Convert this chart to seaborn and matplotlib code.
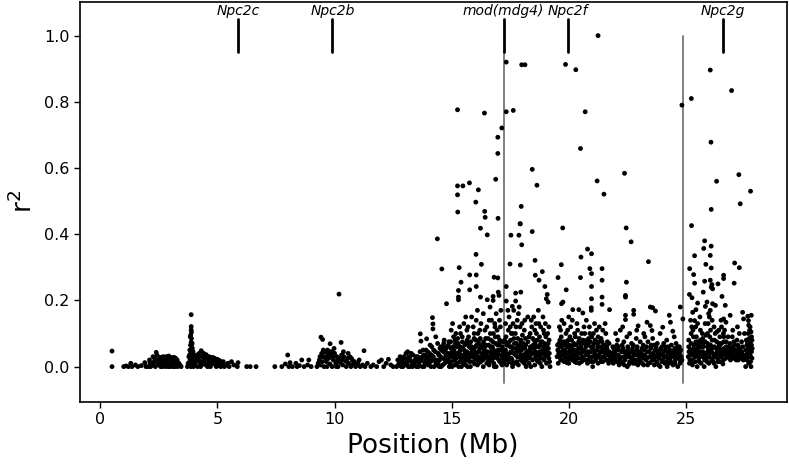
import matplotlib
matplotlib.use("Agg")
import matplotlib.pyplot as plt
import seaborn as sns
import pandas as pd

# ---------------- data ----------------
pts_left = [(0.50,0.047),(0.50,0.0),
 (1.0,0.0),(1.1,0.002),(1.2,0.0),(1.3,0.01),(1.35,0.0),(1.5,0.005),(1.6,0.0),(1.75,0.003),(1.9,0.012),(1.95,0.0),
 (2.05,0.0),(2.1,0.02),(2.2,0.008),(2.25,0.03),(2.3,0.015),(2.35,0.0),(2.39,0.043),(2.42,0.035),(2.45,0.02),(2.5,0.005),
 (2.55,0.028),(2.6,0.012),(2.65,0.0),(2.7,0.02),(2.75,0.008),(2.8,0.03),(2.85,0.015),(2.9,0.0),(2.95,0.025),(3.0,0.01),
 (3.05,0.018),(3.1,0.0),(3.15,0.028),(3.2,0.008),(3.25,0.015),(3.3,0.0),(3.35,0.01),(3.4,0.005),(3.45,0.0),
 (2.15,0.0),(2.28,0.005),(2.48,0.01),(2.58,0.0),(2.68,0.03),(2.78,0.0),(2.88,0.01),(2.98,0.0),(3.08,0.008),(3.18,0.0),
 (3.28,0.02),(2.62,0.022),(2.92,0.032),(3.22,0.025),
 (2.12,0.012),(2.32,0.025),(2.52,0.018),(2.72,0.012),(2.82,0.022),(3.02,0.028),(3.12,0.015),(3.32,0.012),
 (3.72,0.0),(3.75,0.01),(3.78,0.03),(3.8,0.005),(3.82,0.05),(3.83,0.02),(3.85,0.065),(3.86,0.04),(3.87,0.0),(3.88,0.157),
 (3.88,0.121),(3.88,0.111),(3.89,0.104),(3.89,0.085),(3.88,0.074),(3.9,0.06),(3.91,0.045),(3.92,0.03),(3.9,0.015),
 (3.93,0.055),(3.95,0.02),(3.97,0.035),(3.98,0.0),(3.84,0.09),(3.86,0.095),(3.81,0.035),(3.79,0.012),(3.94,0.008),
 (3.87,0.05),(3.92,0.07),(3.84,0.03),(3.89,0.025),(3.91,0.005),(3.85,0.012),(3.96,0.045),
 (4.05,0.01),(4.1,0.025),(4.15,0.0),(4.2,0.02),(4.25,0.012),(4.31,0.048),(4.35,0.03),(4.41,0.04),(4.45,0.018),(4.5,0.005),
 (4.52,0.036),(4.55,0.025),(4.6,0.01),(4.65,0.03),(4.7,0.0),(4.75,0.02),(4.8,0.028),(4.85,0.008),(4.9,0.015),(4.95,0.0),
 (5.0,0.022),(5.05,0.012),(5.1,0.018),(5.15,0.0),(5.2,0.008),(5.25,0.015),(5.3,0.0),(5.35,0.005),(5.45,0.01),(5.5,0.0),
 (5.6,0.015),(5.7,0.005),(5.85,0.0),(5.88,0.012),(4.12,0.035),(4.28,0.0),(4.38,0.008),(4.58,0.0),(4.68,0.015),(4.88,0.025),
 (5.08,0.002),(4.22,0.04),(4.48,0.03),
 (4.08,0.018),(4.18,0.028),(4.33,0.015),(4.43,0.025),(4.62,0.022),(4.78,0.012),(4.98,0.008),
 (6.25,0.0),(6.4,0.0),(6.65,0.0),(7.45,0.0),(7.75,0.0),(7.9,0.008),(8.0,0.035),(8.05,0.0),(8.2,0.0),(8.35,0.01),(8.4,0.0),
 (8.6,0.02),(8.7,0.0),(8.85,0.005),(8.9,0.02),(9.0,0.0),(8.1,0.012),(8.5,0.003),
 (9.25,0.0),(9.3,0.01),(9.35,0.02),(9.42,0.089),(9.49,0.082),(9.45,0.04),(9.5,0.03),(9.55,0.0),(9.6,0.045),(9.65,0.015),
 (9.7,0.05),(9.75,0.025),(9.81,0.069),(9.8,0.008),(9.85,0.035),(9.9,0.0),(9.95,0.02),(10.0,0.04),(10.05,0.01),(10.1,0.03),
 (10.19,0.219),(10.15,0.0),(10.2,0.025),(10.25,0.012),(10.28,0.073),(10.3,0.035),(10.35,0.005),(10.4,0.03),(10.45,0.018),
 (10.5,0.0),(10.55,0.025),(10.6,0.01),(10.65,0.03),(10.7,0.0),(10.75,0.02),(10.8,0.008),(10.85,0.015),(10.9,0.0),
 (11.0,0.01),(11.05,0.02),(11.1,0.0),(11.2,0.005),(11.26,0.048),(11.3,0.0),(11.4,0.01),(9.4,0.005),(9.58,0.03),
 (9.68,0.0),(9.88,0.045),(10.08,0.0),(10.38,0.045),(10.58,0.04),(9.52,0.05),(9.62,0.025),
 (9.38,0.03),(9.48,0.015),(9.72,0.035),(9.92,0.03),(10.12,0.018),(10.32,0.02),(10.52,0.015),(10.72,0.025),(9.78,0.045),(9.98,0.055),
 (11.55,0.0),(11.65,0.005),(11.8,0.0),(11.9,0.015),(12.0,0.02),(12.1,0.0),(12.2,0.01),(12.3,0.022),(12.4,0.005),(12.5,0.0)]

pts_band_a = [(12.65,0.0),(12.7,0.02),(12.75,0.008),(12.8,0.03),(12.85,0.0),(12.9,0.015),(12.95,0.025),(13.0,0.005),
 (13.05,0.04),(13.1,0.012),(13.15,0.0),(13.2,0.028),(13.25,0.018),(13.3,0.005),(13.35,0.035),(13.4,0.01),(13.45,0.022),
 (13.5,0.0),(12.78,0.012),(12.92,0.0),(13.08,0.022),(13.22,0.0),(13.38,0.015),(13.12,0.045),
 (13.55,0.03),(13.6,0.008),(13.66,0.099),(13.65,0.045),(13.7,0.018),(13.69,0.077),(13.75,0.0),(13.8,0.035),(13.85,0.012),
 (13.9,0.05),(13.93,0.084),(13.95,0.025),(14.0,0.005),(14.05,0.04),(14.1,0.015),(14.15,0.06),(14.18,0.148),(14.2,0.129),
 (14.2,0.114),(14.22,0.03),(14.25,0.0),(14.3,0.045),(14.35,0.02),(14.4,0.07),(14.42,0.01),(14.45,0.035),(14.5,0.055),
 (13.58,0.0),(13.72,0.028),(13.82,0.0),(13.88,0.022),(14.02,0.03),(14.12,0.0),(14.28,0.018),(14.38,0.005),(14.48,0.02),
 (14.32,0.09),(14.08,0.065),(13.98,0.045),
 (14.55,0.0),(14.6,0.025),(14.65,0.045),(14.7,0.01),(14.75,0.035),(14.8,0.06),(14.85,0.02),(14.9,0.0),(14.95,0.04),
 (15.0,0.015),(15.05,0.03),(15.1,0.05),(15.15,0.005),(15.2,0.025),(15.25,0.04),(15.3,0.0),(15.35,0.015),(15.4,0.035),
 (15.45,0.055),(15.5,0.01),(14.62,0.005),(14.72,0.05),(14.82,0.015),(14.92,0.028),(15.02,0.0),(15.12,0.02),(15.22,0.01),
 (15.32,0.03),(15.42,0.0),(15.48,0.025),(14.68,0.08),(14.88,0.075),(15.08,0.09),(15.28,0.07),(15.38,0.1),(14.98,0.11),
 (15.55,0.03),(15.6,0.005),(15.65,0.045),(15.7,0.02),(15.75,0.06),(15.8,0.0),(15.85,0.035),(15.9,0.015),(15.95,0.05),
 (16.0,0.025),(16.05,0.04),(16.1,0.005),(16.15,0.03),(16.2,0.055),(16.25,0.015),(16.3,0.04),(16.35,0.0),(16.4,0.025),
 (16.45,0.045),(16.5,0.01),(15.58,0.018),(15.68,0.0),(15.78,0.028),(15.88,0.045),(15.98,0.008),(16.08,0.02),(16.18,0.012),
 (16.28,0.028),(16.38,0.05),(16.48,0.035),(15.62,0.07),(15.72,0.09),(15.82,0.075),(15.92,0.12),(16.02,0.08),(16.12,0.1),
 (16.22,0.085),(16.32,0.065),(16.42,0.11),(15.52,0.13),(15.85,0.15),(16.05,0.14),(16.25,0.13),(16.35,0.16),
 (16.55,0.03),(16.6,0.005),(16.65,0.045),(16.7,0.02),(16.75,0.055),(16.8,0.01),(16.85,0.035),(16.9,0.0),(16.95,0.025),
 (17.0,0.05),(17.05,0.015),(17.1,0.035),(17.15,0.005),(17.2,0.04),(16.58,0.065),(16.68,0.08),(16.78,0.1),(16.88,0.07),
 (16.98,0.09),(17.08,0.12),(17.18,0.075),(16.62,0.015),(16.72,0.038),(16.82,0.0),(16.92,0.048),(17.02,0.02),(17.12,0.01),
 (16.7,0.14),(16.9,0.16),(17.1,0.17)]

pts_band_b = [(17.25,0.02),(17.3,0.05),(17.35,0.005),(17.4,0.035),(17.45,0.015),(17.5,0.06),(17.55,0.025),(17.6,0.0),
 (17.65,0.04),(17.7,0.01),(17.75,0.055),(17.8,0.03),(17.85,0.005),(17.9,0.045),(17.95,0.02),(18.0,0.035),(18.05,0.06),
 (18.1,0.01),(18.15,0.04),(18.2,0.025),(17.28,0.03),(17.38,0.065),(17.48,0.04),(17.58,0.02),(17.68,0.07),(17.78,0.015),
 (17.88,0.03),(17.98,0.05),(18.08,0.028),(18.18,0.0),(17.32,0.09),(17.42,0.11),(17.52,0.08),(17.62,0.13),(17.72,0.1),
 (17.82,0.085),(17.92,0.12),(18.02,0.095),(18.12,0.14),(17.45,0.15),(17.65,0.17),(17.85,0.16),
 (18.25,0.045),(18.3,0.01),(18.35,0.03),(18.4,0.055),(18.45,0.02),(18.5,0.04),(18.55,0.005),(18.6,0.035),(18.65,0.06),
 (18.7,0.015),(18.75,0.045),(18.8,0.025),(18.85,0.0),(18.9,0.04),(18.95,0.02),(19.0,0.055),(19.05,0.01),(19.1,0.035),
 (19.15,0.025),(19.2,0.0),(18.28,0.025),(18.38,0.0),(18.48,0.065),(18.58,0.028),(18.68,0.038),(18.78,0.01),(18.88,0.05),
 (18.98,0.03),(19.08,0.045),(19.18,0.015),(18.3,0.09),(18.42,0.12),(18.52,0.08),(18.62,0.1),(18.72,0.13),(18.82,0.075),
 (18.92,0.11),(19.02,0.09),(19.12,0.07),(18.5,0.15),(18.7,0.17),
 (19.5,0.03),(19.55,0.01),(19.6,0.045),(19.65,0.02),(19.7,0.06),(19.75,0.035),(19.8,0.015),(19.85,0.05),(19.9,0.025),
 (19.95,0.04),(20.0,0.01),(20.05,0.055),(20.1,0.03),(20.15,0.02),(20.2,0.045),(20.25,0.015),(20.3,0.035),(20.35,0.05),
 (20.4,0.025),(20.45,0.01),(19.58,0.07),(19.68,0.09),(19.78,0.075),(19.88,0.1),(19.98,0.08),(20.08,0.12),(20.18,0.065),
 (20.28,0.09),(20.38,0.11),(20.48,0.07),(19.62,0.03),(19.72,0.02),(19.82,0.04),(19.92,0.012),(20.02,0.03),(20.12,0.045),
 (20.22,0.025),(20.32,0.012),(20.42,0.04),(19.7,0.14),(20.0,0.15),
 (20.5,0.04),(20.55,0.015),(20.6,0.03),(20.65,0.05),(20.7,0.02),(20.75,0.035),(20.8,0.01),(20.85,0.045),(20.9,0.025),
 (20.95,0.06),(21.0,0.03),(21.05,0.015),(21.1,0.04),(21.15,0.02),(21.2,0.05),(21.25,0.01),(21.3,0.035),(21.35,0.025),
 (21.4,0.045),(21.45,0.015),(21.5,0.03),(21.55,0.05),(21.6,0.02),(21.65,0.04),(21.7,0.01),(21.75,0.03),(20.58,0.07),
 (20.68,0.1),(20.78,0.08),(20.88,0.12),(20.98,0.09),(21.08,0.07),(21.18,0.11),(21.28,0.075),(21.38,0.085),(21.48,0.065),
 (21.58,0.1),(20.62,0.025),(20.82,0.035),(21.02,0.0),(21.22,0.03),(21.42,0.028),(21.62,0.035)]

pts_band_c = [(21.8,0.02),(21.85,0.04),(21.9,0.01),(21.95,0.03),(22.0,0.05),(22.05,0.015),(22.1,0.035),(22.15,0.005),
 (22.2,0.025),(22.25,0.045),(22.3,0.01),(22.35,0.03),(22.4,0.02),(22.45,0.04),(22.5,0.0),(22.55,0.03),(22.6,0.015),
 (22.65,0.045),(22.7,0.025),(22.75,0.01),(22.8,0.035),(22.85,0.02),(22.9,0.05),(22.95,0.005),(23.0,0.03),(21.88,0.06),
 (22.08,0.08),(22.28,0.065),(22.48,0.09),(22.68,0.07),(22.88,0.085),(21.98,0.02),(22.18,0.03),(22.38,0.045),(22.58,0.008),
 (22.78,0.04),(22.98,0.018),(22.2,0.11),(22.6,0.1),
 (23.05,0.015),(23.1,0.04),(23.15,0.025),(23.2,0.005),(23.25,0.035),(23.3,0.02),(23.35,0.045),(23.4,0.01),(23.45,0.03),
 (23.5,0.055),(23.55,0.02),(23.6,0.04),(23.65,0.005),(23.7,0.03),(23.75,0.015),(23.8,0.045),(23.85,0.025),(23.9,0.0),
 (23.95,0.035),(24.0,0.02),(24.05,0.045),(24.1,0.01),(24.15,0.03),(24.2,0.0),(24.25,0.025),(24.3,0.04),(24.35,0.015),
 (24.4,0.03),(24.45,0.005),(24.5,0.035),(24.55,0.02),(24.6,0.04),(24.65,0.0),(24.7,0.025),(24.75,0.01),(24.8,0.03),
 (23.18,0.065),(23.38,0.075),(23.58,0.085),(23.78,0.07),(23.98,0.06),(24.18,0.08),(24.38,0.065),(24.58,0.07),(24.78,0.05),
 (23.28,0.03),(23.48,0.012),(23.68,0.05),(23.88,0.038),(24.08,0.028),(24.28,0.01),(24.48,0.045),(24.68,0.035),
 (25.1,0.03),(25.15,0.01),(25.2,0.05),(25.25,0.02),(25.3,0.04),(25.35,0.065),(25.4,0.015),(25.45,0.035),(25.5,0.055),
 (25.55,0.025),(25.6,0.045),(25.65,0.01),(25.7,0.03),(25.75,0.06),(25.8,0.02),(25.85,0.04),(25.9,0.015),(25.95,0.05),
 (26.0,0.03),(26.05,0.065),(26.1,0.02),(26.15,0.04),(26.2,0.01),(26.25,0.035),(26.3,0.055),(26.35,0.025),(26.4,0.045),
 (26.45,0.015),(26.5,0.03),(26.55,0.05),(26.6,0.02),(26.65,0.04),(26.7,0.025),(26.75,0.035),(25.12,0.08),(25.22,0.1),
 (25.32,0.09),(25.42,0.12),(25.52,0.075),(25.62,0.11),(25.72,0.085),(25.82,0.13),(25.92,0.1),(26.02,0.09),(26.12,0.14),
 (26.22,0.08),(26.32,0.105),(26.42,0.07),(26.52,0.12),(26.62,0.09),(26.72,0.075),(25.18,0.04),(25.28,0.005),(25.38,0.03),
 (25.48,0.0),(25.58,0.035),(25.68,0.045),(25.78,0.0),(25.88,0.025),(25.98,0.01),(26.08,0.045),(26.18,0.028),(26.28,0.0),
 (26.38,0.038),(26.48,0.048),(26.58,0.008),(26.68,0.05),
 (26.8,0.03),(26.85,0.045),(26.9,0.02),(26.95,0.04),(27.0,0.025),(27.05,0.05),(27.1,0.03),(27.15,0.02),(27.2,0.04),
 (27.25,0.03),(27.3,0.055),(27.35,0.025),(27.4,0.045),(27.45,0.02),(26.88,0.07),(26.98,0.09),(27.08,0.065),(27.18,0.08),
 (27.28,0.1),(27.38,0.075),(26.92,0.032),(27.12,0.038),(27.32,0.035),
 (27.55,0.0),(27.6,0.02),(27.62,0.04),(27.65,0.06),(27.68,0.01),(27.7,0.03),(27.72,0.05),(27.75,0.07),(27.78,0.0),
 (27.8,0.09),(27.82,0.025),(27.58,0.08),(27.66,0.1),(27.74,0.12),(27.8,0.045),(27.6,0.065),(27.7,0.085),(27.76,0.015),
 (27.64,0.035),(27.72,0.11),(27.8,0.065),(27.56,0.05),(27.68,0.125),(27.78,0.105)]

pts_band_extra = [(12.73,0.005),(12.88,0.02),(13.03,0.01),(13.18,0.03),(13.33,0.0),(13.48,0.03),(13.63,0.02),
 (13.78,0.05),(13.93,0.01),(14.03,0.02),(14.13,0.035),(14.23,0.05),(14.33,0.01),(14.43,0.04),(14.53,0.03),(14.63,0.06),
 (14.73,0.02),(14.83,0.04),(14.93,0.01),(15.03,0.045),(15.13,0.035),(15.23,0.06),(15.33,0.045),(15.43,0.02),(15.53,0.05),
 (15.63,0.03),(15.73,0.04),(15.83,0.055),(15.93,0.03),(16.03,0.06),(16.13,0.045),(16.23,0.025),(16.33,0.02),(16.43,0.06),
 (16.53,0.045),(16.63,0.03),(16.73,0.06),(16.83,0.045),(16.93,0.03),(17.03,0.065),(17.13,0.05),(17.23,0.01),(17.33,0.04),
 (17.43,0.025),(17.53,0.045),(17.63,0.055),(17.73,0.035),(17.83,0.05),(17.93,0.065),(18.03,0.015),(18.13,0.055),
 (18.23,0.035),(18.33,0.05),(18.43,0.04),(18.53,0.055),(18.63,0.02),(18.73,0.06),(18.83,0.04),(18.93,0.06),(19.03,0.035),
 (19.13,0.055),(19.53,0.05),(19.63,0.06),(19.73,0.045),(19.83,0.03),(19.93,0.06),(20.03,0.045),(20.13,0.06),(20.23,0.05),
 (20.33,0.025),(20.43,0.055),(20.53,0.025),(20.63,0.045),(20.73,0.06),(20.83,0.02),(20.93,0.045),(21.03,0.05),
 (21.13,0.03),(21.23,0.06),(21.33,0.045),(21.43,0.055),(21.53,0.04),(21.63,0.055),(21.73,0.045),(21.83,0.03),(21.93,0.045),
 (22.03,0.03),(22.13,0.05),(22.23,0.015),(22.33,0.045),(22.43,0.03),(22.53,0.05),(22.63,0.03),(22.73,0.045),(22.83,0.01),
 (22.93,0.035),(23.03,0.045),(23.13,0.01),(23.23,0.05),(23.33,0.025),(23.43,0.045),(23.53,0.035),(23.63,0.02),(23.73,0.05),
 (23.83,0.005),(23.93,0.05),(24.03,0.035),(24.13,0.05),(24.23,0.04),(24.33,0.025),(24.43,0.045),(24.53,0.01),(24.63,0.05),
 (24.73,0.04),(24.83,0.02),(25.13,0.045),(25.23,0.035),(25.33,0.015),(25.43,0.05),(25.53,0.04),(25.63,0.06),(25.73,0.045),
 (25.83,0.03),(25.93,0.06),(26.03,0.045),(26.13,0.055),(26.23,0.035),(26.33,0.045),(26.43,0.06),(26.53,0.04),(26.63,0.055),
 (26.73,0.05),(26.83,0.04),(26.93,0.055),(27.03,0.035),(27.13,0.05),(27.23,0.02),(27.33,0.045),(27.43,0.035),(27.53,0.03),
 (27.63,0.05),(27.73,0.04),(27.83,0.055),
 (12.97,0.03),(13.27,0.04),(13.57,0.015),(13.87,0.035),(14.17,0.02),(14.47,0.0),(14.57,0.05),(14.77,0.03),(14.97,0.055),
 (15.17,0.04),(15.37,0.05),(15.57,0.04),(15.77,0.015),(15.97,0.035),(16.17,0.045),(16.37,0.03),(16.57,0.02),(16.77,0.025),
 (16.97,0.04),(17.17,0.025),(17.37,0.02),(17.57,0.01),(17.77,0.045),(17.97,0.035),(18.17,0.02),(18.37,0.045),(18.57,0.045),
 (18.77,0.03),(18.97,0.045),(19.17,0.04),(19.57,0.04),(19.77,0.05),(19.97,0.02),(20.17,0.035),(20.37,0.04),(20.57,0.05),
 (20.77,0.045),(20.97,0.015),(21.17,0.035),(21.37,0.015),(21.57,0.035),(21.77,0.02),(21.97,0.04),(22.17,0.02),(22.37,0.005),
 (22.57,0.04),(22.77,0.02),(22.97,0.04),(23.17,0.03),(23.37,0.005),(23.57,0.03),(23.77,0.035),(23.97,0.015),(24.17,0.015),
 (24.37,0.035),(24.57,0.025),(24.77,0.015),(25.17,0.02),(25.37,0.045),(25.57,0.015),(25.77,0.035),(25.97,0.04),(26.17,0.015),
 (26.37,0.015),(26.57,0.035),(26.77,0.045),(26.97,0.03),(27.17,0.045),(27.37,0.04),(27.57,0.035),(27.67,0.045),(27.77,0.03),
 (15.15,0.08),(15.45,0.09),(15.65,0.11),(16.15,0.07),(16.45,0.085),(16.65,0.1),(16.85,0.12),(17.05,0.08),(17.35,0.07),
 (17.55,0.1),(17.75,0.12),(17.95,0.075),(18.15,0.085),(18.35,0.1),(18.55,0.11),(18.75,0.09),(18.95,0.1),(19.15,0.12),
 (19.65,0.11),(19.85,0.075),(20.05,0.09),(20.25,0.1),(20.45,0.085),(20.65,0.12),(20.85,0.085),(21.05,0.1),(21.25,0.09),
 (21.45,0.11),(21.65,0.075),(22.05,0.065),(22.35,0.075),(22.75,0.065),(23.05,0.075),(23.25,0.09),(23.65,0.065),
 (24.05,0.07),(24.25,0.06),(24.65,0.06),(25.25,0.12),(25.45,0.09),(25.65,0.075),(25.85,0.095),(26.05,0.11),(26.25,0.1),
 (26.45,0.09),(26.65,0.11),(27.05,0.075),(27.25,0.06)]

pts_band_mid = [(14.54,0.06),(14.66,0.07),(14.76,0.055),(14.86,0.065),(14.96,0.075),(15.06,0.06),(15.16,0.07),
 (15.26,0.085),(15.36,0.06),(15.46,0.075),(15.56,0.065),(15.66,0.08),(15.76,0.07),(15.86,0.06),(15.96,0.085),(16.06,0.065),
 (16.16,0.08),(16.26,0.06),(16.36,0.075),(16.46,0.065),(16.56,0.085),(16.66,0.06),(16.76,0.075),(16.86,0.09),(16.96,0.065),
 (17.06,0.075),(17.16,0.06),(17.26,0.08),(17.36,0.065),(17.46,0.075),(17.56,0.06),(17.66,0.085),(17.76,0.07),(17.86,0.06),
 (17.96,0.08),(18.06,0.07),(18.16,0.065),(18.26,0.075),(18.36,0.06),(18.46,0.085),(18.56,0.07),(18.66,0.08),(18.76,0.065),
 (18.86,0.075),(18.96,0.07),(19.06,0.065),(19.16,0.08),(19.52,0.065),(19.62,0.08),(19.72,0.07),(19.82,0.065),(19.92,0.075),
 (20.02,0.065),(20.12,0.08),(20.22,0.07),(20.32,0.065),(20.42,0.075),(20.52,0.06),(20.62,0.08),(20.72,0.07),(20.82,0.065),
 (20.92,0.075),(21.02,0.06),(21.12,0.08),(21.22,0.07),(21.32,0.06),(21.42,0.075),(21.52,0.065),(21.62,0.06),(21.72,0.07),
 (21.92,0.055),(22.12,0.06),(22.32,0.055),(22.52,0.06),(22.72,0.055),(22.92,0.06),(23.12,0.055),(23.32,0.06),(23.52,0.065),
 (23.72,0.06),(23.92,0.055),(24.12,0.06),(24.32,0.05),(24.52,0.055),(24.72,0.06),(25.12,0.06),(25.22,0.07),(25.32,0.055),
 (25.42,0.075),(25.52,0.065),(25.62,0.08),(25.72,0.065),(25.82,0.075),(25.92,0.07),(26.02,0.065),(26.12,0.08),(26.22,0.06),
 (26.32,0.075),(26.42,0.065),(26.52,0.07),(26.62,0.075),(26.72,0.06),(26.82,0.06),(26.92,0.05),(27.02,0.06),(27.22,0.065),
 (27.42,0.06),(27.62,0.075),(27.72,0.065),(27.82,0.08),
 (15.04,0.13),(15.18,0.1),(15.34,0.12),(15.6,0.15),(15.7,0.12),(15.96,0.1),(16.1,0.17),(16.2,0.11),(16.5,0.12),
 (16.6,0.14),(16.64,0.18),(16.84,0.13),(16.94,0.11),(17.04,0.14),(17.3,0.13),(17.4,0.17),(17.5,0.12),(17.6,0.1),
 (17.8,0.14),(17.88,0.18),(18.0,0.13),(18.1,0.11),(18.25,0.15),(18.4,0.14),(18.6,0.13),(18.8,0.12),(18.9,0.15),
 (19.0,0.13),(19.1,0.1),(19.6,0.12),(19.8,0.13),(19.95,0.11),(20.15,0.14),(20.35,0.13),(20.55,0.1),(20.75,0.14),
 (20.9,0.1),(21.1,0.13),(21.3,0.12),(21.55,0.13),(22.0,0.1),(22.3,0.12),(22.9,0.11),(23.2,0.1),(23.9,0.1),(24.5,0.09),
 (25.2,0.14),(25.3,0.11),(25.5,0.13),(25.6,0.15),(25.7,0.1),(25.95,0.13),(26.0,0.15),(26.2,0.12),(26.4,0.11),
 (26.5,0.14),(26.6,0.1),(26.8,0.09),(27.0,0.11),(27.2,0.12),(27.5,0.1)]

pts_upper = [(21.25,1.00),(17.33,0.92),(17.99,0.912),(18.13,0.912),(19.86,0.913),(20.30,0.897),(26.04,0.896),
 (26.95,0.834),(25.23,0.81),(24.83,0.79),(15.25,0.776),(16.40,0.766),(17.33,0.77),(17.63,0.774),(20.70,0.77),
 (17.14,0.721),(16.97,0.693),(20.50,0.659),(26.07,0.678),(16.97,0.644),(18.44,0.596),(22.38,0.584),(27.26,0.58),
 (16.88,0.566),(15.25,0.546),(15.48,0.546),(15.76,0.555),(16.14,0.534),(18.64,0.548),(21.21,0.561),(26.31,0.56),
 (15.25,0.519),(21.50,0.521),(27.76,0.53),(16.03,0.497),(27.32,0.492),(26.08,0.475),(15.26,0.467),(16.41,0.469),
 (16.43,0.451),(17.97,0.484),(16.98,0.448),(17.92,0.432),(16.23,0.418),(18.44,0.408),(19.74,0.419),(22.45,0.419),
 (25.24,0.426),(16.52,0.398),(17.53,0.397),(17.87,0.397),(14.39,0.386),
 (14.58,0.295),(14.78,0.19),(16.04,0.339),(16.27,0.309),(15.32,0.299),(15.77,0.277),(16.05,0.277),(15.40,0.255),
 (16.81,0.27),(16.97,0.268),(15.77,0.232),(16.05,0.242),(15.29,0.23),(15.29,0.21),(15.29,0.202),(16.23,0.21),
 (16.52,0.202),(16.99,0.225),(17.02,0.215),(16.77,0.212),(16.77,0.2),(17.33,0.242),(17.33,0.198),(17.93,0.431),
 (17.99,0.368),(17.49,0.31),(17.93,0.307),(18.56,0.321),(18.87,0.287),(18.57,0.276),(18.73,0.261),(18.98,0.242),
 (19.08,0.218),(19.12,0.195),(19.04,0.205),(17.73,0.222),(17.95,0.225),(17.73,0.198),(17.59,0.182),(19.68,0.308),
 (19.54,0.269),(20.5,0.269),(19.89,0.232),(19.75,0.195),(19.69,0.19),(20.8,0.355),(20.97,0.341),(20.52,0.331),
 (20.9,0.296),(20.97,0.281),(20.97,0.242),(20.97,0.205),(20.17,0.172),(20.43,0.172),(20.6,0.162),
 (22.66,0.377),(23.4,0.317),(21.42,0.296),(21.42,0.261),(21.42,0.21),(21.42,0.188),(20.96,0.178),(20.96,0.17),
 (21.74,0.172),(22.46,0.255),(22.42,0.215),(22.42,0.21),(22.42,0.155),(22.42,0.142),(22.77,0.17),(22.77,0.158),
 (22.96,0.123),(23.48,0.18),(23.58,0.178),(23.7,0.168),(23.34,0.134),(23.48,0.124),(23.55,0.109),(24.29,0.155),
 (24.34,0.134),(24.44,0.107),(24.01,0.119),(24.76,0.18),(24.87,0.144),
 (25.8,0.38),(25.76,0.357),(26.08,0.364),(26.04,0.336),(25.85,0.309),(26.08,0.298),(25.37,0.335),(25.16,0.296),
 (25.33,0.278),(25.37,0.252),(25.8,0.258),(25.74,0.225),(26.04,0.261),(26.08,0.24),(26.14,0.235),(26.11,0.248),
 (26.37,0.25),(26.61,0.276),(26.61,0.266),(27.08,0.313),(27.28,0.299),(27.06,0.252),(25.15,0.218),(25.26,0.208),
 (25.5,0.192),(25.43,0.172),(25.37,0.139),(25.29,0.164),(25.9,0.195),(25.83,0.182),(25.97,0.16),(26.14,0.19),
 (26.26,0.185),(26.04,0.17),(26.54,0.212),(26.68,0.185),(26.89,0.155),(26.61,0.144),(26.71,0.134),(27.42,0.164),
 (27.64,0.152),(27.79,0.155),(27.46,0.144),(27.67,0.139)]

gene_names = ["Npc2c", "Npc2b", "mod(mdg4)", "Npc2f", "Npc2g"]
gene_pos = [5.89, 9.91, 17.22, 19.97, 26.57]
boundary_pos = [17.24, 24.87]
boundary_top = [0.95, 1.0]

x_ticks = [0, 5, 10, 15, 20, 25]
y_ticks = [0.0, 0.2, 0.4, 0.6, 0.8, 1.0]

# ---------------- plot ----------------
sns.set_theme(style="ticks")
plt.rcParams["font.family"] = ["DejaVu Sans"]

all_pts = (pts_left + pts_band_a + pts_band_b + pts_band_c + pts_band_extra
           + pts_band_mid + pts_upper)
df = pd.DataFrame(all_pts, columns=["pos", "r2"])

fig = plt.figure(figsize=(7.89, 4.66), dpi=100)
ax = fig.add_axes([0.101, 0.138, 0.896, 0.858])

sns.scatterplot(data=df, x="pos", y="r2", ax=ax, color="black", s=12,
                linewidth=0, edgecolor="none", legend=False, zorder=3)

for xb, yt in zip(boundary_pos, boundary_top):
    ax.plot([xb, xb], [-0.05, yt], color="#808080", lw=1.4, zorder=2)

for name, xg in zip(gene_names, gene_pos):
    ax.plot([xg, xg], [0.95, 1.05], color="black", lw=2, zorder=4)
    ax.text(xg, 1.053, name, ha="center", va="bottom", fontsize=10,
            style="italic", color="black")

ax.set_xlim(-0.88, 29.3)
ax.set_ylim(-0.106, 1.102)
ax.set_xticks(x_ticks)
ax.set_yticks(y_ticks)
ax.set_xticklabels([str(t) for t in x_ticks])
ax.set_yticklabels([f"{t:.1f}" for t in y_ticks])
ax.tick_params(axis="both", labelsize=11.5, length=4, width=1, color="black",
               labelcolor="black", direction="out")
ax.set_xlabel("Position (Mb)", fontsize=19, color="black")
ax.set_ylabel("r$^2$", fontsize=19, color="black")
for sp in ax.spines.values():
    sp.set_visible(True)
    sp.set_color("black")
    sp.set_linewidth(1.2)

fig.savefig("out.png", dpi=100)
